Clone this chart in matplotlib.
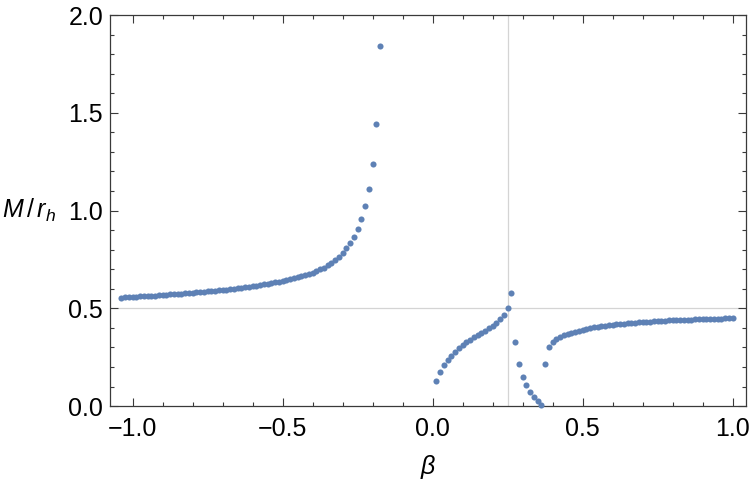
import matplotlib
matplotlib.use("Agg")
import matplotlib.pyplot as plt
from matplotlib.ticker import MultipleLocator, FuncFormatter

beta_left = [
    -1.0375, -1.025, -1.0125, -1.0, -0.9875, -0.975, -0.9625, -0.95, -0.9375, -0.925,
    -0.9125, -0.9, -0.8875, -0.875, -0.8625, -0.85, -0.8375, -0.825, -0.8125, -0.8,
    -0.7875, -0.775, -0.7625, -0.75, -0.7375, -0.725, -0.7125, -0.7, -0.6875, -0.675,
    -0.6625, -0.65, -0.6375, -0.625, -0.6125, -0.6, -0.5875, -0.575, -0.5625, -0.55,
    -0.5375, -0.525, -0.5125, -0.5, -0.4875, -0.475, -0.4625, -0.45, -0.4375, -0.425,
    -0.4125, -0.4, -0.3875, -0.375, -0.3625, -0.35, -0.3375, -0.325, -0.3125, -0.3,
    -0.2875, -0.275, -0.2625, -0.25, -0.2375, -0.225, -0.2125, -0.2, -0.1875, -0.175,
]
m_left = [
    0.555, 0.556, 0.557, 0.558, 0.559, 0.561, 0.562, 0.563, 0.564, 0.565,
    0.567, 0.568, 0.569, 0.571, 0.572, 0.573, 0.575, 0.576, 0.578, 0.580,
    0.581, 0.583, 0.584, 0.586, 0.588, 0.590, 0.592, 0.594, 0.596, 0.598,
    0.600, 0.603, 0.605, 0.608, 0.610, 0.613, 0.616, 0.619, 0.622, 0.625,
    0.628, 0.632, 0.636, 0.640, 0.644, 0.648, 0.653, 0.658, 0.664, 0.670,
    0.676, 0.683, 0.691, 0.699, 0.708, 0.719, 0.731, 0.746, 0.764, 0.785,
    0.807, 0.835, 0.866, 0.905, 0.957, 1.022, 1.110, 1.240, 1.445, 1.840,
]

beta_mid = [
    0.0125, 0.025, 0.0375, 0.05, 0.0625, 0.075, 0.0875, 0.1, 0.1125, 0.125,
    0.1375, 0.15, 0.1625, 0.175, 0.1875, 0.2, 0.2125, 0.225, 0.2375, 0.25,
]
m_mid = [
    0.126, 0.174, 0.208, 0.235, 0.258, 0.278, 0.295, 0.311, 0.326, 0.340,
    0.352, 0.363, 0.374, 0.385, 0.397, 0.410, 0.425, 0.443, 0.467, 0.500,
]

beta_dip = [0.2625, 0.275, 0.2875, 0.3, 0.3125, 0.325, 0.3375, 0.35, 0.3625]
m_dip = [0.578, 0.326, 0.216, 0.151, 0.106, 0.072, 0.047, 0.027, 0.008]

beta_right = [
    0.375, 0.3875, 0.4, 0.4125, 0.425, 0.4375, 0.45, 0.4625, 0.475, 0.4875,
    0.5, 0.5125, 0.525, 0.5375, 0.55, 0.5625, 0.575, 0.5875, 0.6, 0.6125,
    0.625, 0.6375, 0.65, 0.6625, 0.675, 0.6875, 0.7, 0.7125, 0.725, 0.7375,
    0.75, 0.7625, 0.775, 0.7875, 0.8, 0.8125, 0.825, 0.8375, 0.85, 0.8625,
    0.875, 0.8875, 0.9, 0.9125, 0.925, 0.9375, 0.95, 0.9625, 0.975, 0.9875,
    1.0,
]
m_right = [
    0.217, 0.302, 0.326, 0.341, 0.352, 0.361, 0.368, 0.374, 0.380, 0.385,
    0.390, 0.394, 0.398, 0.402, 0.405, 0.408, 0.411, 0.414, 0.416, 0.418,
    0.420, 0.422, 0.424, 0.426, 0.427, 0.429, 0.430, 0.431, 0.432, 0.434,
    0.435, 0.436, 0.437, 0.438, 0.439, 0.439, 0.440, 0.441, 0.442, 0.442,
    0.443, 0.444, 0.444, 0.445, 0.446, 0.446, 0.447, 0.447, 0.448, 0.448,
    0.449,
]

axes_origin = (0.25, 0.5)

plt.rcParams["font.family"] = ["Liberation Sans", "DejaVu Sans"]
plt.rcParams["mathtext.fontset"] = "custom"
plt.rcParams["mathtext.it"] = "Liberation Sans:italic"
plt.rcParams["mathtext.rm"] = "Liberation Sans"

fig = plt.figure(figsize=(7.5, 4.84), dpi=100)
ax = fig.add_axes([0.1467, 0.161, 0.8486, 0.808])

# Mathematica-style axes through the origin point
ax.axvline(axes_origin[0], color="#d4d4d4", lw=0.9, zorder=1)
ax.axhline(axes_origin[1], color="#d4d4d4", lw=0.9, zorder=1)

point_color = "#5e81b5"
for xs, ys in [(beta_left, m_left), (beta_mid, m_mid), (beta_dip, m_dip), (beta_right, m_right)]:
    ax.plot(xs, ys, "o", ms=4.4, color=point_color, mec="none", zorder=3, clip_on=False)

ax.set_xlim(-1.0757, 1.046)
ax.set_ylim(0, 2.0)

fmt = FuncFormatter(lambda v, _: f"{v:.1f}".replace("-", "\u2212"))
for axis in (ax.xaxis, ax.yaxis):
    axis.set_major_locator(MultipleLocator(0.5))
    axis.set_minor_locator(MultipleLocator(0.1))
    axis.set_major_formatter(fmt)

frame_color = "#3a3a3a"
for sp in ax.spines.values():
    sp.set_color(frame_color)
    sp.set_linewidth(0.9)
ax.tick_params(which="both", direction="in", top=True, right=True,
               color=frame_color, width=0.8, labelsize=18, labelcolor="black")
ax.tick_params(which="major", length=5.5)
ax.tick_params(which="minor", length=3)
ax.tick_params(axis="x", pad=8)
ax.tick_params(axis="y", pad=5)

fig.text(0.003, 1 - 210.5 / 484, r"$M\,/\,r_h$", fontsize=18, ha="left", va="center")
fig.text(0.571, 0.035, r"$\beta$", fontsize=18, ha="center", va="center")

fig.savefig("out.png", dpi=100)
